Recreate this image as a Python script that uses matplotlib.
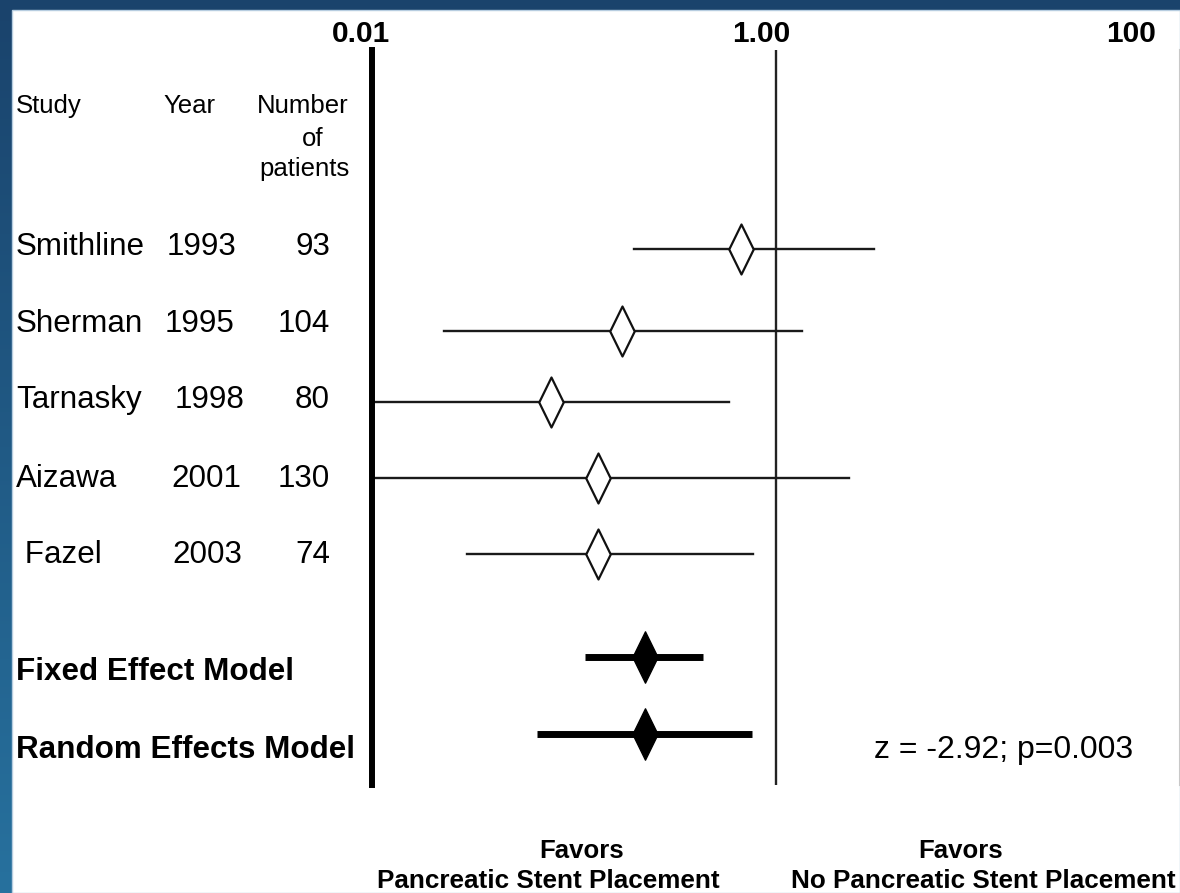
import numpy as np
import matplotlib
matplotlib.use("Agg")
import matplotlib.pyplot as plt
from matplotlib.path import Path
from matplotlib.patches import Rectangle
from matplotlib.colors import LinearSegmentedColormap

#%% data (odds ratios, log scale)
studies = ["Smithline", "Sherman", "Tarnasky", "Aizawa", " Fazel"]
years = ["1993", "1995", "1998", "2001", "2003"]
patients = ["93", "104", "80", "130", "74"]
or_est = [0.67, 0.173, 0.077, 0.131, 0.131]
ci_low = [0.198, 0.0227, 0.006, 0.006, 0.0296]   # Tarnasky / Aizawa run past 0.01
ci_high = [3.05, 1.34, 0.583, 2.29, 0.771]

models = ["Fixed Effect Model", "Random Effects Model"]
model_est = [0.224, 0.224]
model_low = [0.113, 0.0656]
model_high = [0.435, 0.761]

ticks = [0.01, 1.00, 100]
tick_labels = ["0.01", "1.00", "100"]
stat_text = "z = -2.92; p=0.003"

#%% layout (pixels of the 1180x893 picture)
W, H = 1180, 893
row_y = [249, 331, 402, 478, 554]
model_y = [657, 734]
text_y = [255, 332, 408, 487, 563]
model_text_y = [680, 758]
year_x = [167, 165, 175, 171, 172]


def fx(x):
    return x / W


def fy(y):
    return 1 - y / H


font = "Liberation Sans"
plt.rcParams["font.family"] = [font, "DejaVu Sans"]

fig = plt.figure(figsize=(W / 100, H / 100), dpi=100)

# blue frame + white panel
bg = fig.add_axes([0, 0, 1, 1], zorder=-2)
cmap = LinearSegmentedColormap.from_list("frame", ["#27719e", "#1a436c"])
bg.imshow(np.linspace(0, 1, 256).reshape(-1, 1), cmap=cmap, aspect="auto",
          extent=[0, 1, 0, 1], origin="lower")
bg.add_patch(Rectangle((fx(12), 0), 1 - fx(12), fy(10), facecolor="white",
                       edgecolor="#b7cde0", lw=1.0))
bg.set_xlim(0, 1)
bg.set_ylim(0, 1)
bg.axis("off")

#%% forest plot
ax = fig.add_axes([fx(372), fy(785), fx(1180) - fx(372), fy(50) - fy(785)])
ax.set_xscale("log")
ax.set_xlim(0.01, 100)
ax.set_ylim(785, 50)
ax.axis("off")

ax.axvline(0.01, color="black", lw=4.3, clip_on=False, zorder=3)
ax.axvline(1.0, color="#222222", lw=1.7, zorder=1)
ax.axvline(100, color="#c8c8c8", lw=1.5, clip_on=False, zorder=1)

open_dia = Path([(0, 1), (0.49, 0), (0, -1), (-0.49, 0), (0, 1)],
                [Path.MOVETO, Path.LINETO, Path.LINETO, Path.LINETO, Path.CLOSEPOLY])

for i in range(len(studies)):
    ax.plot([ci_low[i], ci_high[i]], [row_y[i], row_y[i]], color="#1a1a1a", lw=1.7, zorder=2)
    ax.plot(or_est[i], row_y[i], marker=open_dia, markersize=36, markerfacecolor="white",
            markeredgecolor="#111111", markeredgewidth=1.6, zorder=4)

for i in range(len(models)):
    ax.plot([model_low[i], model_high[i]], [model_y[i], model_y[i]], color="black",
            lw=5, solid_capstyle="butt", zorder=2)
    ax.plot(model_est[i], model_y[i], marker=open_dia, markersize=37, markerfacecolor="black",
            markeredgecolor="black", markeredgewidth=1, zorder=4)

#%% text
tick_x = [361, 761, 1131]
for x, lab in zip(tick_x, tick_labels):
    fig.text(fx(x), fy(42), lab, ha="center", va="baseline", fontsize=21.5, fontweight="bold")

fig.text(fx(16), fy(113), "Study", fontsize=18.5, va="baseline")
fig.text(fx(163), fy(113), "Year", fontsize=18.5, va="baseline")
fig.text(fx(303), fy(113), "Number", fontsize=18.5, va="baseline", ha="center")
fig.text(fx(313), fy(146), "of", fontsize=18.5, va="baseline", ha="center")
fig.text(fx(304), fy(176), "patients", fontsize=18.5, va="baseline", ha="center")

for i in range(len(studies)):
    fig.text(fx(16), fy(text_y[i]), studies[i], fontsize=22.6, va="baseline")
    fig.text(fx(year_x[i]), fy(text_y[i]), years[i], fontsize=22.6, va="baseline")
    fig.text(fx(330), fy(text_y[i]), patients[i], fontsize=22.6, va="baseline", ha="right")

for i in range(len(models)):
    fig.text(fx(16), fy(model_text_y[i]), models[i], fontsize=22.6, fontweight="bold",
             va="baseline")

fig.text(fx(874), fy(758), stat_text, fontsize=23, va="baseline")

fig.text(fx(582), fy(858), "Favors", fontsize=18.5, fontweight="bold", ha="center", va="baseline")
fig.text(fx(548), fy(888), "Pancreatic Stent Placement", fontsize=18.8, fontweight="bold",
         ha="center", va="baseline")
fig.text(fx(961), fy(858), "Favors", fontsize=18.5, fontweight="bold", ha="center", va="baseline")
fig.text(fx(983), fy(888), "No Pancreatic Stent Placement", fontsize=18.8, fontweight="bold",
         ha="center", va="baseline")

fig.savefig("out.png", dpi=100)
